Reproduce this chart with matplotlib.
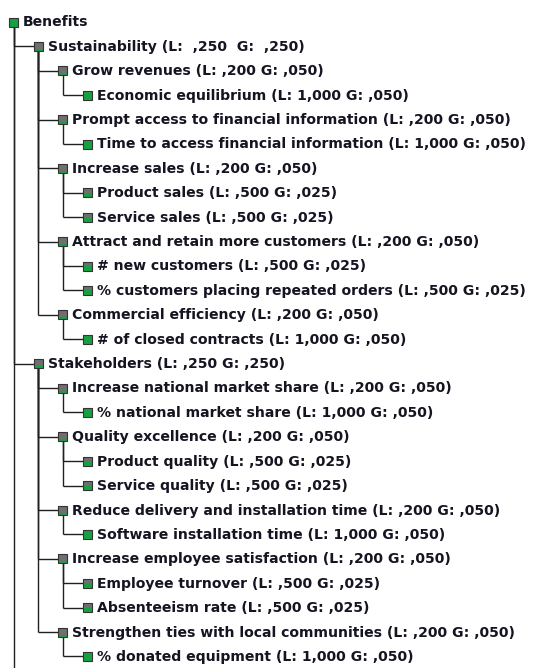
import matplotlib
matplotlib.use("Agg")
import matplotlib.pyplot as plt
from matplotlib.patches import Rectangle

# tree rows, top to bottom (level = depth in the tree)
names = ["Benefits",
         "Sustainability", "Grow revenues", "Economic equilibrium",
         "Prompt access to financial information", "Time to access financial information",
         "Increase sales", "Product sales", "Service sales",
         "Attract and retain more customers", "# new customers", "% customers placing repeated orders",
         "Commercial efficiency", "# of closed contracts",
         "Stakeholders", "Increase national market share", "% national market share",
         "Quality excellence", "Product quality", "Service quality",
         "Reduce delivery and installation time", "Software installation time",
         "Increase employee satisfaction", "Employee turnover", "Absenteeism rate",
         "Strengthen ties with local communities", "% donated equipment"]
levels = [0,
          1, 2, 3,
          2, 3,
          2, 3, 3,
          2, 3, 3,
          2, 3,
          1, 2, 3,
          2, 3, 3,
          2, 3,
          2, 3, 3,
          2, 3]
local_w = [None,
           ",250", ",200", "1,000",
           ",200", "1,000",
           ",200", ",500", ",500",
           ",200", ",500", ",500",
           ",200", "1,000",
           ",250", ",200", "1,000",
           ",200", ",500", ",500",
           ",200", "1,000",
           ",200", ",500", ",500",
           ",200", "1,000"]
global_w = [None,
            ",250", ",050", ",050",
            ",050", ",050",
            ",050", ",025", ",025",
            ",050", ",025", ",025",
            ",050", ",050",
            ",250", ",050", ",050",
            ",050", ",025", ",025",
            ",050", ",050",
            ",050", ",025", ",025",
            ",050", ",050"]


def to_float(s):
    return float(s.replace(",", "."))


W, H = 541, 668
fig = plt.figure(figsize=(W / 100, H / 100), dpi=100)
ax = fig.add_axes([0, 0, 1, 1])
ax.set_xlim(0, W)
ax.set_ylim(H, 0)
ax.axis("off")

row0, row_h = 22, 24.4
x0, indent = 13.5, 24.6
box = 9
green = "#17a043"
grey = "#6f6f72"
line_c = "#202020"

ys = [row0 + row_h * i for i in range(len(names))]
xs = [x0 + indent * lv for lv in levels]

# connectors: vertical from parent down to last child, horizontal to each child
parents = []
stack = []
for i, lv in enumerate(levels):
    while stack and levels[stack[-1]] >= lv:
        stack.pop()
    parents.append(stack[-1] if stack else None)
    stack.append(i)

for i, p in enumerate(parents):
    if p is None:
        continue
    ax.plot([xs[p], xs[p]], [ys[p] + box / 2, ys[i]], color=line_c, lw=1.0,
            solid_capstyle="butt", zorder=1)
    ax.plot([xs[p], xs[i] - box / 2], [ys[i], ys[i]], color=line_c, lw=1.0,
            solid_capstyle="butt", zorder=1)
# root has more children below the visible part
ax.plot([xs[0], xs[0]], [ys[0], H], color=line_c, lw=1.0, zorder=1)

for i, name in enumerate(names):
    cx, cy = xs[i], ys[i]
    frac = 1.0 if local_w[i] is None else min(to_float(local_w[i]), 1.0)
    left, top = cx - box / 2, cy - box / 2
    ax.add_patch(Rectangle((left, top), box, box, facecolor=grey,
                           edgecolor="none", zorder=2))
    gh = box * frac
    ax.add_patch(Rectangle((left, top + box - gh), box, gh, facecolor=green,
                           edgecolor="none", zorder=3))
    ax.add_patch(Rectangle((left, top), box, box, facecolor="none",
                           edgecolor="#333333", lw=0.8, zorder=4))
    if local_w[i] is None:
        label = name
    elif i == 1:
        # this row is spaced out wider in the original
        label = f"{name} (L:  {local_w[i]}  G:  {global_w[i]})"
    else:
        label = f"{name} (L: {local_w[i]} G: {global_w[i]})"
    ax.text(cx + 9.5, cy + 0.5, label, ha="left", va="center",
            fontsize=10.1, fontweight="bold", family="DejaVu Sans",
            color="#151522", zorder=5)

fig.savefig("out.png", dpi=100)
